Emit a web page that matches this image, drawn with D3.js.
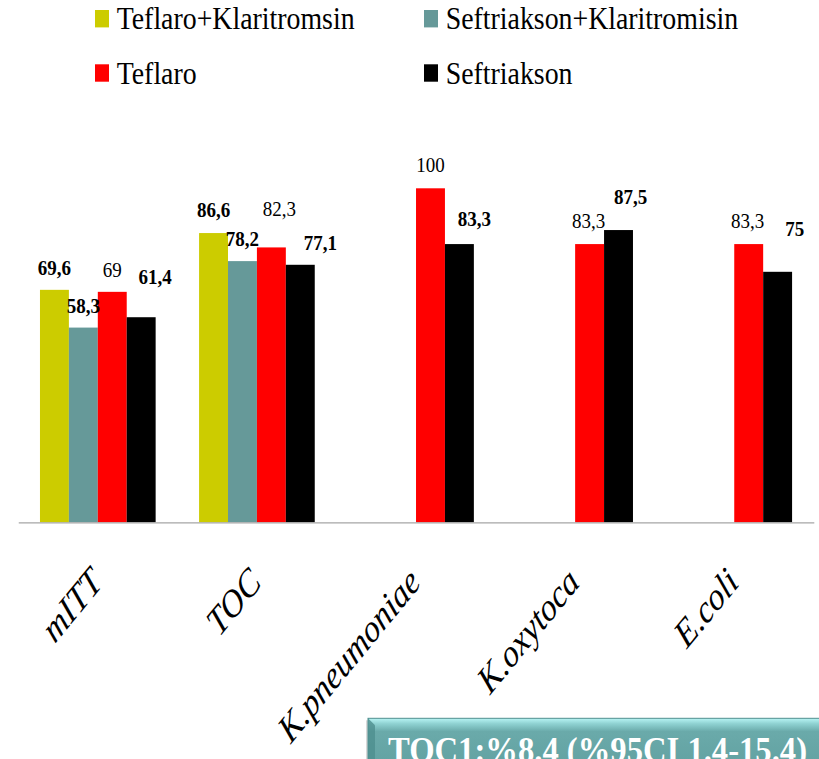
<!DOCTYPE html>
<html>
<head>
<meta charset="utf-8">
<script src="https://cdn.jsdelivr.net/npm/d3@7"></script>
<style>
  html, body { margin: 0; padding: 0; background: #ffffff; }
  svg { display: block; }
</style>
</head>
<body>
<svg id="chart" width="819" height="759"></svg>
<script>
// ---------------- DATA ----------------
const categories = ["mITT", "TOC", "K.pneumoniae", "K.oxytoca", "E.coli"];
const seriesNames = ["Teflaro+Klaritromsin", "Seftriakson+Klaritromisin", "Teflaro", "Seftriakson"];
const teflaroKlaritromsin = [69.6, 86.6, null, null, null];
const seftriaksonKlaritromisin = [58.3, 78.2, null, null, null];
const teflaro = [69, 82.3, 100, 83.3, 83.3];
const seftriakson = [61.4, 77.1, 83.3, 87.5, 75];
const seriesValues = [teflaroKlaritromsin, seftriaksonKlaritromisin, teflaro, seftriakson];
const noteText = "TOC1:%8.4 (%95CI 1.4-15.4)";

// ---------------- STYLE / LAYOUT ----------------
const colors = ["#cccc00", "#669999", "#ff0000", "#000000"];
const labelWeights = ["bold", "bold", "normal", "bold"];
// label nudges (dx from bar centre, gap of baseline above bar top), per series per category
const labelDx = [[0, 0, 0, 0, 0], [0, 0, 0, 0, 0], [0, 8, 0, -1, -1], [14, 20, 15, 12, 17]];
const labelGap = [[15, 16, 0, 0, 0], [15, 15, 0, 0, 0], [15, 31, 16, 16.5, 16.5], [33.5, 14.5, 18, 26, 35.5]];

const svg = d3.select("#chart");
const baseY = 522.3;

const x0 = d3.scaleBand().domain(categories).range([18.25, 813.8])
  .paddingInner(0.273).paddingOuter(0.1365);
const x1 = d3.scaleBand().domain(seriesNames).range([0, x0.bandwidth()]).padding(0);
const y = d3.scaleLinear().domain([0, 100]).range([baseY, 188.3]);

// bars
const rows = [];
seriesNames.forEach((s, si) => {
  categories.forEach((c, ci) => {
    const v = seriesValues[si][ci];
    if (v !== null && v !== undefined) rows.push({ s, si, c, ci, v });
  });
});

svg.append("g").selectAll("rect").data(rows).join("rect")
  .attr("x", d => x0(d.c) + x1(d.s))
  .attr("y", d => y(d.v))
  .attr("width", x1.bandwidth())
  .attr("height", d => y(0) - y(d.v))
  .attr("fill", d => colors[d.si]);

// value labels
svg.append("g").selectAll("text").data(rows).join("text")
  .attr("transform", d => `translate(${x0(d.c) + x1(d.s) + x1.bandwidth() / 2 + labelDx[d.si][d.ci]},${y(d.v) - labelGap[d.si][d.ci]}) scale(1,1.08)`)
  .attr("text-anchor", "middle")
  .attr("font-family", "'Liberation Serif', serif")
  .attr("font-size", 19)
  .attr("font-weight", d => labelWeights[d.si])
  .attr("fill", "#000")
  .text(d => String(d.v).replace(".", ","));

// x axis
const axis = svg.append("g")
  .attr("transform", `translate(0,${baseY})`)
  .call(d3.axisBottom(x0).tickSize(0).tickSizeOuter(0));
axis.select(".domain").attr("stroke", "#a6a6a6").attr("stroke-width", 1.3);
axis.selectAll(".tick text")
  .attr("x", 0).attr("y", 0).attr("dy", 0)
  .attr("transform", "translate(6,62) scale(1,1.22) rotate(-45)")
  .attr("text-anchor", "end")
  .attr("font-family", "'Liberation Serif', serif")
  .attr("font-style", "italic")
  .attr("font-size", 32)
  .attr("fill", "#000");

// legend
const legendPos = [[95, 10], [424, 10], [95, 64.3], [424, 64.3]];
const lg = svg.append("g");
seriesNames.forEach((s, i) => {
  const [lx, ly] = legendPos[i];
  lg.append("rect").attr("x", lx).attr("y", ly).attr("width", 14).attr("height", 17.4)
    .attr("fill", colors[i]);
  lg.append("text")
    .attr("transform", `translate(${lx + 21.7},${ly + 19.2}) scale(0.87,1)`)
    .attr("font-family", "'Liberation Serif', serif")
    .attr("font-size", 32)
    .attr("fill", "#000")
    .text(s);
});

// note box
const defs = svg.append("defs");
const grad = defs.append("linearGradient").attr("id", "boxGrad")
  .attr("x1", 0).attr("y1", 0).attr("x2", 0).attr("y2", 1);
grad.append("stop").attr("offset", "0%").attr("stop-color", "#b8f4f4");
grad.append("stop").attr("offset", "9%").attr("stop-color", "#8fd2d2");
grad.append("stop").attr("offset", "22%").attr("stop-color", "#6aaaaa");
grad.append("stop").attr("offset", "100%").attr("stop-color", "#609f9f");

const bx = 368, by = 718.3;
svg.append("rect").attr("x", bx - 2).attr("y", by + 2).attr("width", 470).attr("height", 60)
  .attr("fill", "#d8d8d8");
svg.append("rect").attr("x", bx).attr("y", by).attr("width", 470).attr("height", 60)
  .attr("fill", "url(#boxGrad)").attr("stroke", "#4f8f8f").attr("stroke-width", 1);
svg.append("path")
  .attr("d", `M${bx},${by} L${bx + 7},${by + 7} L${bx + 7},${by + 60} L${bx},${by + 60} Z`)
  .attr("fill", "#4e8e8e").attr("opacity", 0.8);
svg.append("text")
  .attr("x", 388).attr("y", 762)
  .attr("font-family", "'Liberation Serif', serif")
  .attr("font-weight", "bold")
  .attr("font-size", 36)
  .attr("fill", "#ffffff")
  .attr("textLength", 419)
  .attr("lengthAdjust", "spacingAndGlyphs")
  .text(noteText);
</script>
</body>
</html>
